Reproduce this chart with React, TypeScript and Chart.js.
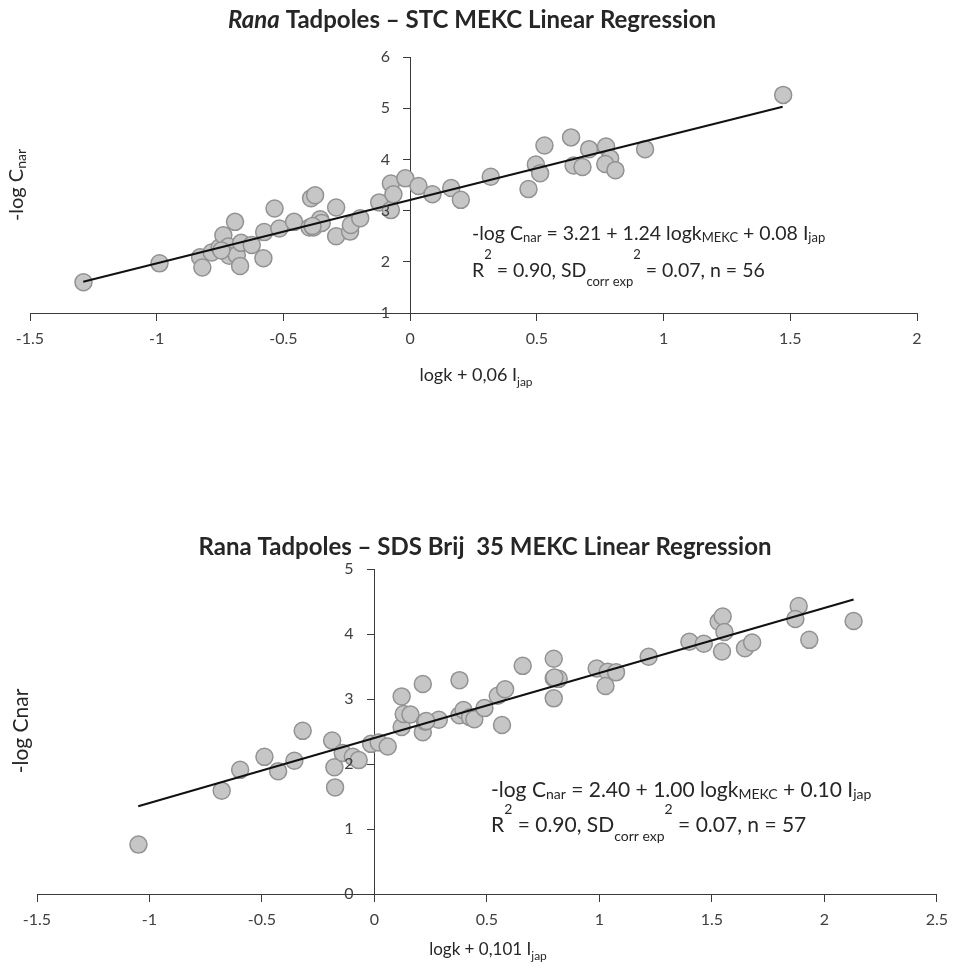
import React, { useEffect, useRef } from 'react';
import { Chart, registerables } from 'chart.js';

Chart.register(...registerables);

const FONT = 'Lato, "Open Sans", sans-serif';
const AXIS = '#3a3a3a';
const TICK_TEXT = '#404040';
const TEXT = '#262626';
const POINT_FILL = '#c6c6c6';
const POINT_BORDER = '#929292';

// ---- Chart 1: STC MEKC ----
const stcX = [
  -1.289, -0.989, -0.829, -0.820, -0.783, -0.752, -0.737, -0.717, -0.714, -0.691,
  -0.684, -0.671, -0.667, -0.625, -0.579, -0.576, -0.535, -0.516, -0.458, -0.391,
  -0.375, -0.397, -0.381, -0.355, -0.349, -0.292, -0.292, -0.237, -0.234, -0.197,
  -0.122, -0.076, -0.076, -0.066, -0.019, 0.033, 0.088, 0.162, 0.200, 0.318,
  0.467, 0.496, 0.513, 0.530, 0.635, 0.645, 0.680, 0.706, 0.773, 0.789,
  0.770, 0.810, 0.927, 1.472, -0.745, -0.385,
];
const stcY = [
  1.60, 1.97, 2.09, 1.89, 2.18, 2.28, 2.52, 2.30, 2.12, 2.78,
  2.13, 1.92, 2.37, 2.33, 2.07, 2.58, 3.04, 2.65, 2.78, 3.24,
  3.30, 2.67, 2.67, 2.83, 2.76, 3.06, 2.50, 2.59, 2.72, 2.85,
  3.16, 3.53, 3.01, 3.32, 3.63, 3.48, 3.32, 3.44, 3.21, 3.66,
  3.42, 3.90, 3.73, 4.27, 4.43, 3.88, 3.85, 4.20, 4.25, 4.02,
  3.91, 3.79, 4.20, 5.26, 2.22, 2.70,
];
const stcLineX = [-1.29, 1.47];
const stcLineY = [1.61, 5.03];
const stcXRange = [-1.5, 2];
const stcYRange = [1, 6];

// ---- Chart 2: SDS Brij 35 MEKC ----
const sdsX = [
  -1.049, -0.679, -0.597, -0.489, -0.428, -0.356, -0.319, -0.188, -0.178, -0.175,
  -0.141, -0.096, -0.070, -0.015, 0.019, 0.059, 0.121, 0.121, 0.130, 0.160,
  0.215, 0.215, 0.225, 0.286, 0.378, 0.378, 0.396, 0.425, 0.444, 0.489,
  0.548, 0.581, 0.567, 0.659, 0.797, 0.797, 0.819, 0.797, 0.988, 1.037,
  1.074, 1.027, 1.219, 1.400, 1.464, 1.545, 1.530, 1.548, 1.556, 1.647,
  1.679, 1.886, 1.871, 1.933, 2.130, 0.230, 0.800,
];
const sdsY = [
  0.76, 1.59, 1.91, 2.11, 1.89, 2.05, 2.51, 2.36, 1.95, 1.64,
  2.17, 2.11, 2.06, 2.31, 2.33, 2.27, 3.04, 2.57, 2.77, 2.76,
  3.23, 2.49, 2.65, 2.68, 3.29, 2.75, 2.83, 2.72, 2.69, 2.86,
  3.05, 3.15, 2.60, 3.51, 3.62, 3.32, 3.31, 3.01, 3.47, 3.42,
  3.41, 3.20, 3.65, 3.88, 3.85, 3.73, 4.19, 4.27, 4.03, 3.78,
  3.87, 4.43, 4.23, 3.91, 4.20, 2.66, 3.33,
];
const sdsLineX = [-1.05, 2.13];
const sdsLineY = [1.35, 4.53];
const sdsXRange = [-1.5, 2.5];
const sdsYRange = [0, 5];

type Seg = { t: string; shift?: number; small?: boolean; bold?: boolean; italic?: boolean };

function drawRich(
  ctx: CanvasRenderingContext2D,
  segs: Seg[],
  x: number,
  y: number,
  size: number,
  align: 'left' | 'center',
  color: string,
  smallRatio = 0.68
) {
  const small = Math.round(size * smallRatio);
  const fontFor = (s: Seg) =>
    `${s.italic ? 'italic ' : ''}${s.bold ? 'bold ' : ''}${s.small ? small : size}px ${FONT}`;
  const widths = segs.map((s) => {
    ctx.font = fontFor(s);
    return ctx.measureText(s.t).width;
  });
  const total = widths.reduce((a, b) => a + b, 0);
  let cx = align === 'center' ? x - total / 2 : x;
  ctx.textAlign = 'left';
  ctx.textBaseline = 'alphabetic';
  ctx.fillStyle = color;
  segs.forEach((s, i) => {
    ctx.font = fontFor(s);
    ctx.fillText(s.t, cx, y + (s.shift || 0));
    cx += widths[i];
  });
}

type TextSpec = {
  title: Seg[];
  titleX: number;
  titleY: number;
  titleSize: number;
  xTitle: Seg[];
  xTitleX: number;
  xTitleY: number;
  xTitleSize: number;
  yTitle: Seg[];
  yTitleX: number;
  yTitleY: number;
  yTitleSize: number;
  eq1: Seg[];
  eq2: Seg[];
  eqX: number;
  eq1Y: number;
  eq2Y: number;
  eqSize: number;
  yTickGap: number;
};

const TICK_SIZE = 16;

function makeTextPlugin(spec: TextSpec) {
  return {
    id: 'richTexts',
    afterDraw(chart: any) {
      const ctx: CanvasRenderingContext2D = chart.ctx;
      ctx.save();
      // y tick labels, placed left of the y axis (which crosses at x = 0)
      const ys = chart.scales.y;
      const axisX = chart.scales.x.getPixelForValue(0);
      ctx.font = `${TICK_SIZE}px ${FONT}`;
      ctx.fillStyle = TICK_TEXT;
      ctx.textAlign = 'right';
      ctx.textBaseline = 'middle';
      ys.ticks.forEach((t: any) => {
        ctx.fillText(String(Math.round(t.value)), axisX - spec.yTickGap, ys.getPixelForValue(t.value));
      });
      drawRich(ctx, spec.title, spec.titleX, spec.titleY, spec.titleSize, 'center', TEXT);
      drawRich(ctx, spec.xTitle, spec.xTitleX, spec.xTitleY, spec.xTitleSize, 'center', TEXT);
      ctx.save();
      ctx.translate(spec.yTitleX, spec.yTitleY);
      ctx.rotate(-Math.PI / 2);
      drawRich(ctx, spec.yTitle, 0, 7, spec.yTitleSize, 'center', TEXT);
      ctx.restore();
      drawRich(ctx, spec.eq1, spec.eqX, spec.eq1Y, spec.eqSize, 'left', TEXT);
      drawRich(ctx, spec.eq2, spec.eqX, spec.eq2Y, spec.eqSize, 'left', TEXT);
      ctx.restore();
    },
  };
}

function makeConfig(
  xs: number[],
  ys: number[],
  lx: number[],
  ly: number[],
  xr: number[],
  yr: number[],
  padding: { left: number; right: number; top: number; bottom: number },
  spec: TextSpec
): any {
  const tickFont = { family: FONT, size: TICK_SIZE };
  const grid = {
    drawOnChartArea: false,
    drawTicks: true,
    tickLength: 7,
    color: AXIS,
    lineWidth: 1,
  };
  const border = { display: true, color: AXIS, width: 1 };
  return {
    type: 'scatter',
    data: {
      datasets: [
        {
          type: 'line',
          data: lx.map((x, i) => ({ x, y: ly[i] })),
          borderColor: '#111111',
          borderWidth: 2,
          pointRadius: 0,
          fill: false,
          order: 0,
        },
        {
          type: 'scatter',
          data: xs.map((x, i) => ({ x, y: ys[i] })),
          backgroundColor: POINT_FILL,
          borderColor: POINT_BORDER,
          borderWidth: 1.5,
          pointRadius: 8.5,
          order: 1,
        },
      ],
    },
    options: {
      responsive: false,
      animation: false,
      devicePixelRatio: 1,
      layout: { padding },
      plugins: {
        legend: { display: false },
        tooltip: { enabled: false },
        title: { display: false },
      },
      scales: {
        x: {
          type: 'linear',
          min: xr[0],
          max: xr[1],
          position: { y: yr[0] },
          ticks: {
            stepSize: 0.5,
            color: TICK_TEXT,
            font: tickFont,
            padding: 9,
            maxRotation: 0,
            autoSkip: false,
            callback: (v: number) => String(Math.round(v * 10) / 10),
          },
          grid,
          border,
        },
        y: {
          type: 'linear',
          min: yr[0],
          max: yr[1],
          position: { x: 0 },
          ticks: {
            display: false,
            stepSize: 1,
            font: tickFont,
            autoSkip: false,
          },
          grid,
          border,
        },
      },
    },
    plugins: [makeTextPlugin(spec)],
  };
}

const spec1: TextSpec = {
  title: [
    { t: 'Rana', bold: true, italic: true },
    { t: ' Tadpoles – STC MEKC Linear Regression', bold: true },
  ],
  titleX: 472,
  titleY: 28,
  titleSize: 24,
  xTitle: [{ t: 'logk + 0,06 I' }, { t: 'jap', small: true, shift: 5 }],
  xTitleX: 476,
  xTitleY: 381,
  xTitleSize: 18,
  yTitle: [{ t: '-log C' }, { t: 'nar', small: true, shift: 3 }],
  yTitleX: 16,
  yTitleY: 185,
  yTitleSize: 20,
  eq1: [
    { t: '-log C' },
    { t: 'nar', small: true, shift: 2 },
    { t: ' = 3.21 + 1.24 logk' },
    { t: 'MEKC', small: true, shift: 2 },
    { t: ' + 0.08 I' },
    { t: 'jap', small: true, shift: 2 },
  ],
  eq2: [
    { t: 'R' },
    { t: '2', small: true, shift: -18 },
    { t: ' = 0.90, SD' },
    { t: 'corr exp', small: true, shift: 9 },
    { t: '2', small: true, shift: -18 },
    { t: ' = 0.07, n = 56' },
  ],
  eqX: 472,
  eq1Y: 240,
  eq2Y: 277,
  eqSize: 19.5,
  yTickGap: 20,
};

const spec2: TextSpec = {
  title: [{ t: 'Rana Tadpoles – SDS Brij  35 MEKC Linear Regression', bold: true }],
  titleX: 485,
  titleY: 75,
  titleSize: 24,
  xTitle: [{ t: 'logk + 0,101 I' }, { t: 'jap', small: true, shift: 5 }],
  xTitleX: 488,
  xTitleY: 475,
  xTitleSize: 17,
  yTitle: [{ t: '-log Cnar' }],
  yTitleX: 21,
  yTitleY: 251,
  yTitleSize: 21,
  eq1: [
    { t: '-log C' },
    { t: 'nar', small: true, shift: 2 },
    { t: ' = 2.40 + 1.00 logk' },
    { t: 'MEKC', small: true, shift: 2 },
    { t: ' + 0.10 I' },
    { t: 'jap', small: true, shift: 2 },
  ],
  eq2: [
    { t: 'R' },
    { t: '2', small: true, shift: -18 },
    { t: ' = 0.90, SD' },
    { t: 'corr exp', small: true, shift: 9 },
    { t: '2', small: true, shift: -18 },
    { t: ' = 0.07, n = 57' },
  ],
  eqX: 491,
  eq1Y: 317,
  eq2Y: 352,
  eqSize: 21,
  yTickGap: 21,
};

export default function App() {
  const c1 = useRef<HTMLCanvasElement>(null);
  const c2 = useRef<HTMLCanvasElement>(null);

  useEffect(() => {
    const ch1 = new Chart(
      c1.current!,
      makeConfig(stcX, stcY, stcLineX, stcLineY, stcXRange, stcYRange,
        { left: 30, right: 40, top: 57, bottom: 167 }, spec1)
    );
    const ch2 = new Chart(
      c2.current!,
      makeConfig(sdsX, sdsY, sdsLineX, sdsLineY, sdsXRange, sdsYRange,
        { left: 37, right: 19, top: 89, bottom: 80 }, spec2)
    );
    return () => {
      ch1.destroy();
      ch2.destroy();
    };
  }, []);

  return (
    <div style={{ position: 'absolute', left: 0, top: 0, width: 957, height: 974, background: '#fff', overflow: 'hidden' }}>
      <canvas ref={c1} width={957} height={480} style={{ position: 'absolute', left: 0, top: 0 }} />
      <canvas ref={c2} width={957} height={494} style={{ position: 'absolute', left: 0, top: 480 }} />
    </div>
  );
}
